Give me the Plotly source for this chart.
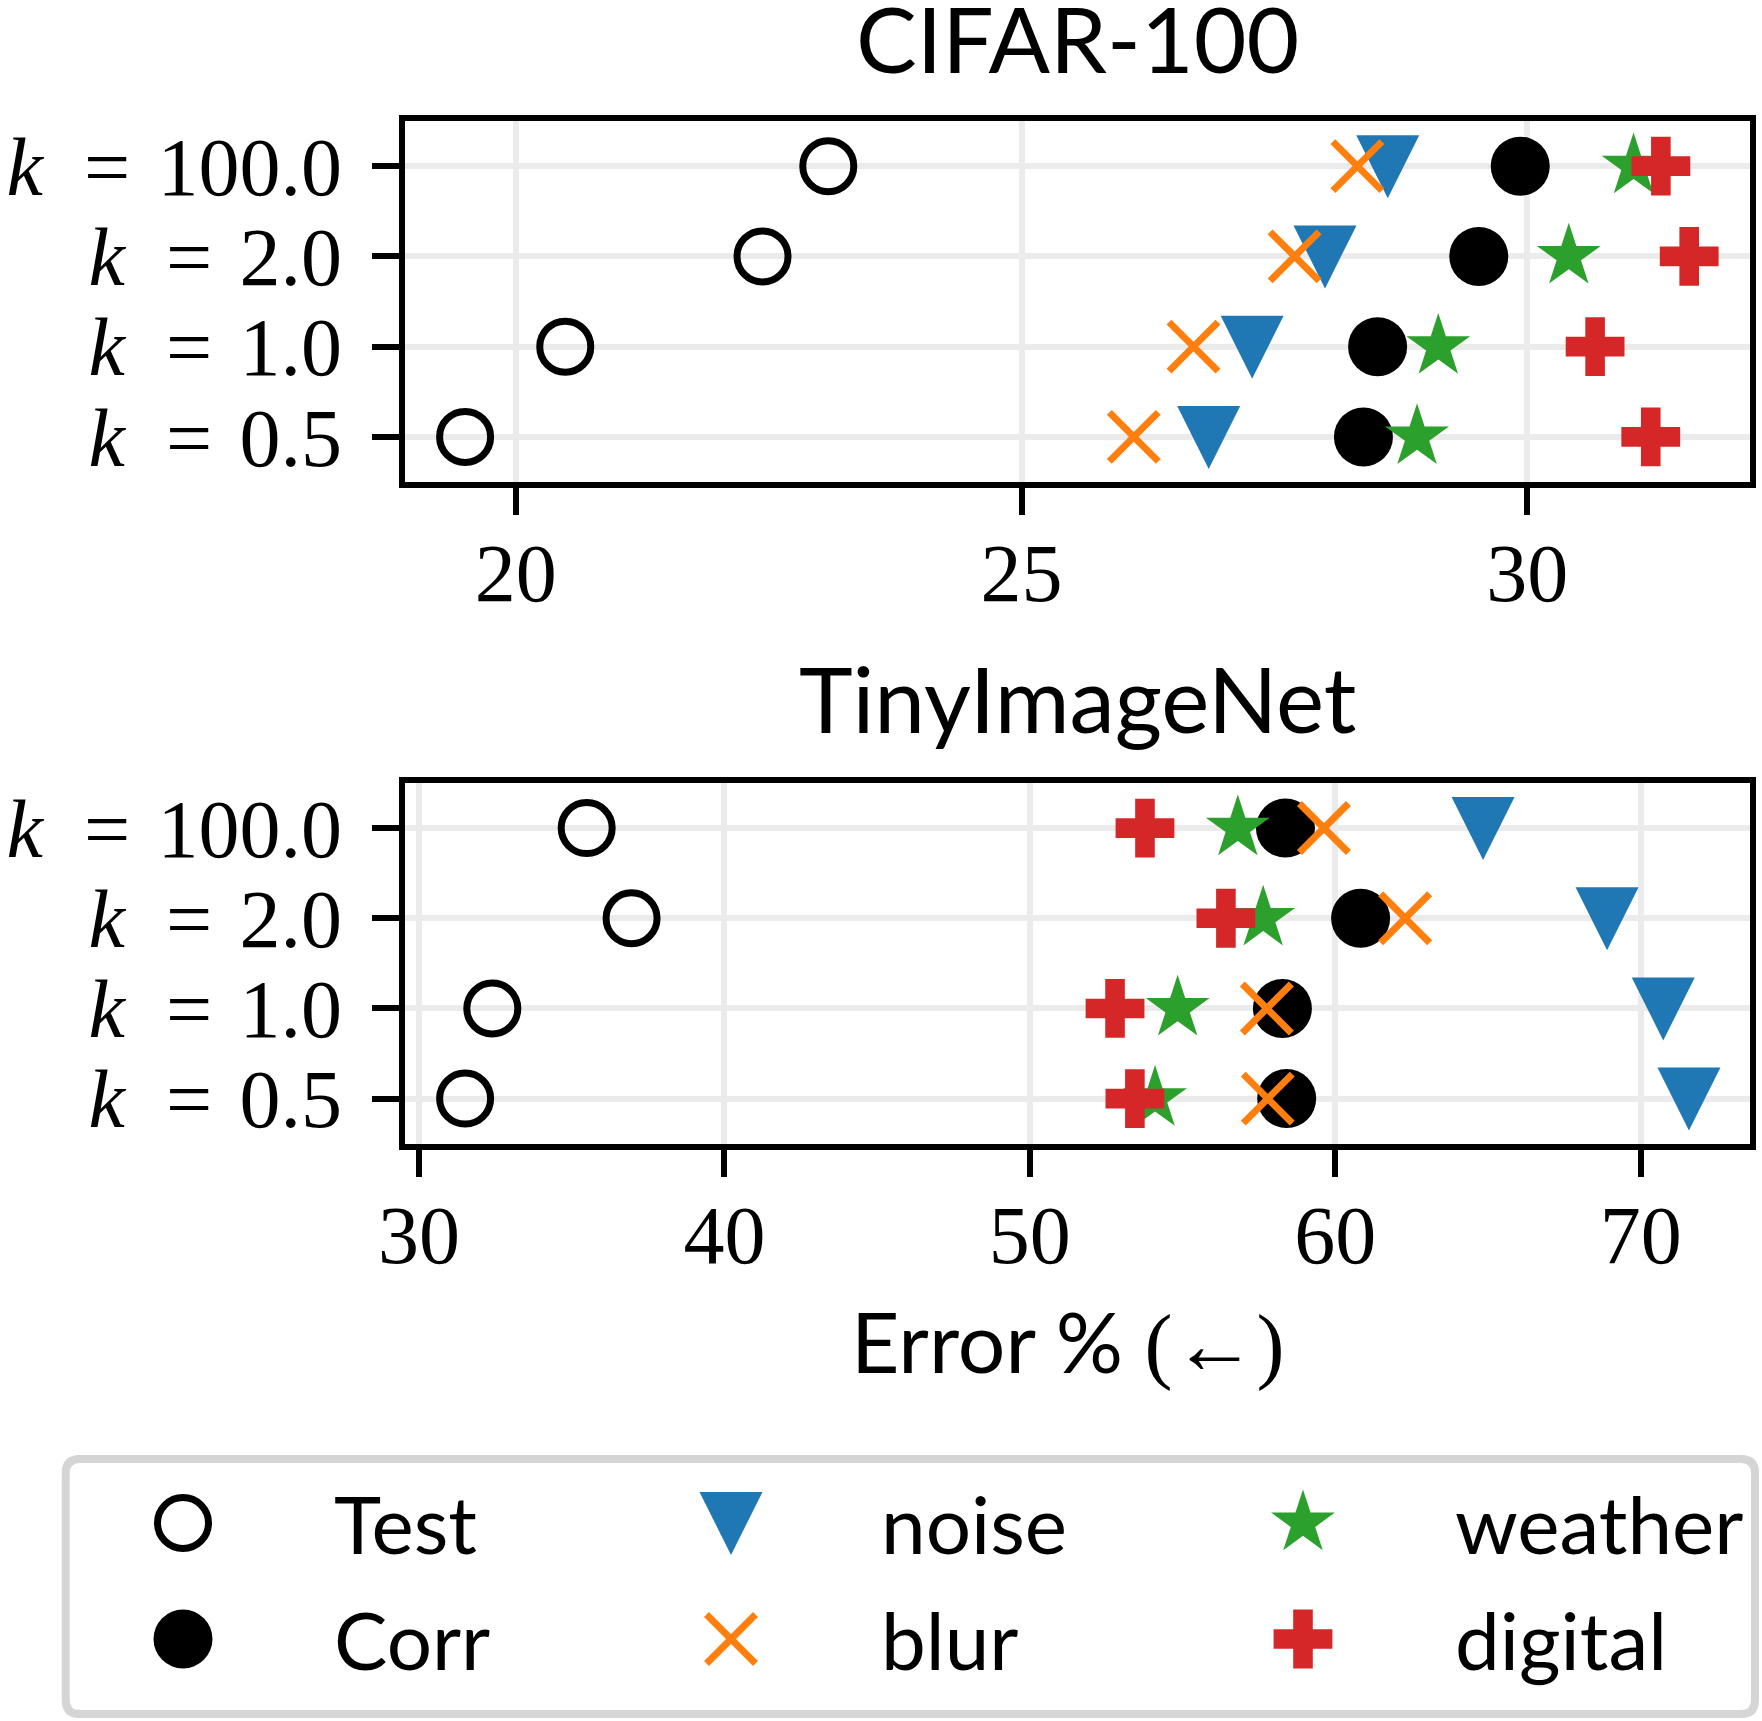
import plotly.graph_objects as go

# ---------------- data ----------------
K_LABELS = ["0.5", "1.0", "2.0", "100.0"]
SERIES = ["Test", "Corr", "noise", "blur", "weather", "digital"]

# CIFAR-100 error % (order follows K_LABELS)
CIFAR_TEST = [19.50, 20.49, 22.44, 23.09]
CIFAR_CORR = [28.38, 28.52, 29.52, 29.93]
CIFAR_NOISE = [26.85, 27.28, 28.00, 28.62]
CIFAR_BLUR = [26.11, 26.70, 27.70, 28.32]
CIFAR_WEATHER = [28.91, 29.12, 30.41, 31.05]
CIFAR_DIGITAL = [31.22, 30.67, 31.60, 31.32]

# TinyImageNet error %
TIN_TEST = [31.51, 32.40, 36.96, 35.49]
TIN_CORR = [58.41, 58.27, 60.83, 58.37]
TIN_NOISE = [71.58, 70.74, 68.90, 64.84]
TIN_BLUR = [57.79, 57.76, 62.29, 59.63]
TIN_WEATHER = [54.10, 54.84, 57.64, 56.81]
TIN_DIGITAL = [53.44, 52.79, 56.42, 53.77]

CIFAR_TICKS = [20, 25, 30]
TIN_TICKS = [30, 40, 50, 60, 70]

CIFAR = [CIFAR_TEST, CIFAR_CORR, CIFAR_NOISE, CIFAR_BLUR, CIFAR_WEATHER, CIFAR_DIGITAL]
TIN = [TIN_TEST, TIN_CORR, TIN_NOISE, TIN_BLUR, TIN_WEATHER, TIN_DIGITAL]

# ---------------- styles ----------------
W, H = 1762, 1721
SANS = "Lato"
SERIF = "Liberation Serif"
STYLE = {
    "Test": dict(symbol="circle-open", size=51, color="black", line=dict(width=7, color="black")),
    "Corr": dict(symbol="circle", size=59, color="black", line=dict(width=0)),
    "noise": dict(symbol="arrow-down", standoff=32, size=63, color="#1f77b4", line=dict(width=0)),
    "blur": dict(symbol="x-thin", size=49, color="#ff7f0e", line=dict(width=7, color="#ff7f0e")),
    "weather": dict(symbol="star", size=48, color="#2ca02c", line=dict(width=0)),
    "digital": dict(symbol="cross", size=49, color="#d62728", line=dict(width=0)),
}

XDOM = [404.5 / W, 1750.3 / W]
TOP_DOM = [1 - 482.0 / H, 1 - 121.0 / H]
BOT_DOM = [1 - 1143.7 / H, 1 - 783.0 / H]

ypos = list(range(len(K_LABELS)))
yticktext = ["<i>k</i>\u2002=\u2004" + k for k in K_LABELS]

fig = go.Figure()
for vals, xa, ya in [(CIFAR, "x", "y"), (TIN, "x2", "y2")]:
    for name, v in zip(SERIES, vals):
        fig.add_trace(go.Scatter(x=v, y=ypos, mode="markers", name=name, xaxis=xa, yaxis=ya,
                                 marker=STYLE[name], showlegend=False, cliponaxis=False))

# ---------------- custom legend (large markers) ----------------
LEG_MARKER_X = [183, 731, 1303]
LEG_TEXT_X = [332, 879, 1453]
LEG_ROW_Y = [1523, 1639]
for i, name in enumerate(SERIES):
    col, row = divmod(i, 2)
    fig.add_trace(go.Scatter(x=[LEG_MARKER_X[col]], y=[LEG_ROW_Y[row]], mode="markers",
                             xaxis="x3", yaxis="y3", marker=STYLE[name], showlegend=False,
                             cliponaxis=False, hoverinfo="skip"))

axis_common = dict(showgrid=True, gridcolor="#ebebeb", gridwidth=6, zeroline=False,
                   showline=True, linecolor="black", linewidth=6, mirror=True,
                   ticks="outside", ticklen=27, tickwidth=6, tickcolor="black", automargin=False,
                   tickfont=dict(family=SERIF, size=82, color="black"))

annotations = [
    dict(text="CIFAR-100", xref="paper", yref="paper", x=sum(XDOM) / 2, y=1 - 38 / H,
         xanchor="center", yanchor="middle", showarrow=False, font=dict(family=SANS, size=91, color="black")),
    dict(text="TinyImageNet", xref="paper", yref="paper", x=sum(XDOM) / 2, y=1 - 697 / H,
         xanchor="center", yanchor="middle", showarrow=False, font=dict(family=SANS, size=91, color="black")),
    dict(text="Error % <span style=\"font-family:'Liberation Serif'\">(\u2190)</span>", xref="paper", yref="paper",
         x=1068 / W, y=1 - 1341 / H, xanchor="center", yanchor="middle", showarrow=False,
         font=dict(family=SANS, size=84, color="black")),
]
for i, name in enumerate(SERIES):
    col, row = divmod(i, 2)
    annotations.append(dict(text=name, xref="x3", yref="y3", x=LEG_TEXT_X[col], y=LEG_ROW_Y[row],
                            xanchor="left", yanchor="middle", showarrow=False,
                            font=dict(family=SANS, size=80, color="black")))

# rounded legend frame (pixel coords on x3/y3)
x0, x1, y0, y1, r = 65.7, 1755.0, 1459.0, 1714.0, 14
frame_path = (f"M{x0 + r},{y0} H{x1 - r} Q{x1},{y0} {x1},{y0 + r} V{y1 - r} Q{x1},{y1} {x1 - r},{y1} "
              f"H{x0 + r} Q{x0},{y1} {x0},{y1 - r} V{y0 + r} Q{x0},{y0} {x0 + r},{y0} Z")

fig.update_layout(
    width=W, height=H, margin=dict(l=0, r=0, t=0, b=0, autoexpand=False),
    paper_bgcolor="white", plot_bgcolor="white", showlegend=False,
    xaxis=dict(axis_common, domain=XDOM, anchor="y", range=[18.901, 32.204], tickvals=CIFAR_TICKS,
               ticklabelstandoff=-12),
    yaxis=dict(axis_common, domain=TOP_DOM, anchor="x", range=[-0.5, 3.5], tickvals=ypos,
               ticktext=yticktext, ticklabelstandoff=13),
    xaxis2=dict(axis_common, domain=XDOM, anchor="y2", range=[29.525, 73.59], tickvals=TIN_TICKS,
                ticklabelstandoff=-12),
    yaxis2=dict(axis_common, domain=BOT_DOM, anchor="x2", range=[-0.5, 3.5], tickvals=ypos,
                ticktext=yticktext, ticklabelstandoff=13),
    xaxis3=dict(domain=[30 / W, 1], range=[30, W], visible=False, fixedrange=True, automargin=False),
    yaxis3=dict(domain=[0, 1 - 1420 / H], range=[H, 1420], visible=False, fixedrange=True, anchor="x3",
                automargin=False),
    annotations=annotations,
    shapes=[dict(type="path", path=frame_path, xref="x3", yref="y3", layer="below",
                 line=dict(color="#d5d5d5", width=8), fillcolor="white")],
)

fig.write_html("out.html", config={"displayModeBar": False},
               post_script="document.body.style.margin='0';")
